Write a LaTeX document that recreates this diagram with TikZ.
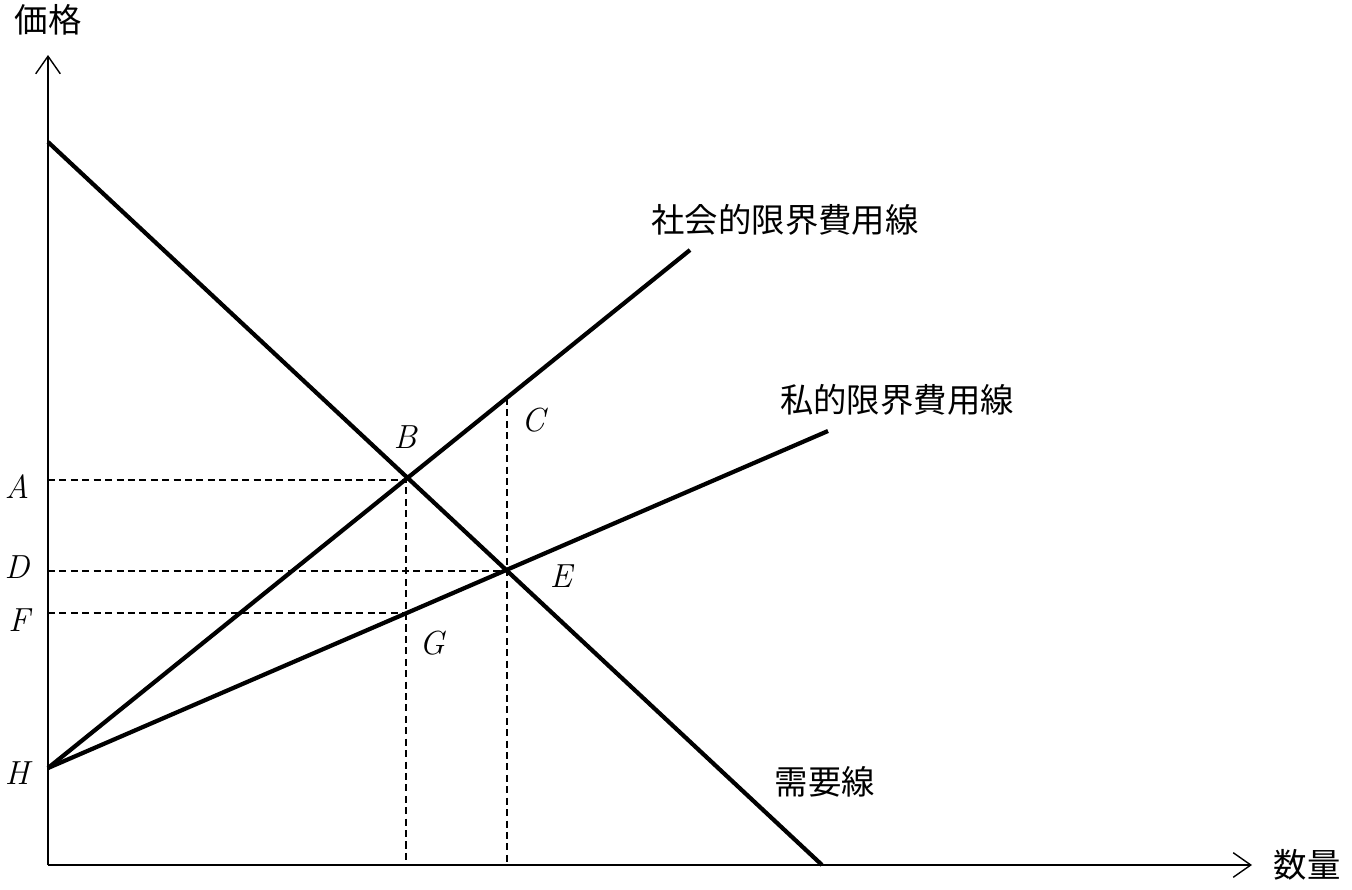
\documentclass[tikz,border=0pt]{standalone}
\usepackage{fontspec}
\newfontfamily\cjk{Noto Sans CJK JP}
\usetikzlibrary{arrows.meta}
\begin{document}
\begin{tikzpicture}[x=0.02cm,y=-0.02cm,
  ax/.style={line width=0.8pt,-{Straight Barb[length=10pt,width=14pt]}},
  thickln/.style={line width=2.4pt},
  dsh/.style={line width=0.7pt,dash pattern=on 4pt off 2.5pt},
  jl/.style={font=\cjk\fontsize{19pt}{22pt}\selectfont},
  ll/.style={font=\fontsize{19pt}{22pt}\selectfont\itshape}]
\useasboundingbox (0,0) rectangle (1352,889);
\coordinate (O) at (48,865);
\coordinate (Y) at (48,55);
\coordinate (X) at (1252,865);
\coordinate (D1) at (48,142); \coordinate (D2) at (822,865);
\coordinate (H) at (48,768);
\coordinate (S2) at (690,250);
\coordinate (P2) at (828,431);
\coordinate (B) at (406,480);
\coordinate (E) at (507,571);
\coordinate (Ct) at (507,398);
\coordinate (G) at (406,613);
\coordinate (Ay) at (48,480); \coordinate (Dy) at (48,571); \coordinate (Fy) at (48,613);
\coordinate (Bx) at (406,865); \coordinate (Ex) at (507,865);
\draw[ax] (O) -- (Y);
\draw[ax] (O) -- (X);
\draw[dsh] (Ay) -- (B) -- (Bx);
\draw[dsh] (Dy) -- (E);
\draw[dsh] (Fy) -- (G);
\draw[dsh] (Ct) -- (Ex);
\draw[thickln] (D1) -- (D2);
\draw[thickln] (H) -- (S2);
\draw[thickln] (H) -- (P2);
\node[jl] (ylab) at (48,20) {価格};
\node[jl] (xlab) at (1307,865) {数量};
\node[jl] (sl) at (785,220) {社会的限界費用線};
\node[jl] (pl) at (897,400) {私的限界費用線};
\node[jl] (dl) at (825,782) {需要線};
\node[ll] (lA) at (17,487) {A};
\node[ll] (lD) at (17,567) {D};
\node[ll] (lF) at (19,620) {F};
\node[ll] (lH) at (17,773) {H};
\node[ll] (lB) at (405,437) {B};
\node[ll] (lC) at (533,420) {C};
\node[ll] (lE) at (561,576) {E};
\node[ll] (lG) at (432,643) {G};
\end{tikzpicture}
\end{document}
